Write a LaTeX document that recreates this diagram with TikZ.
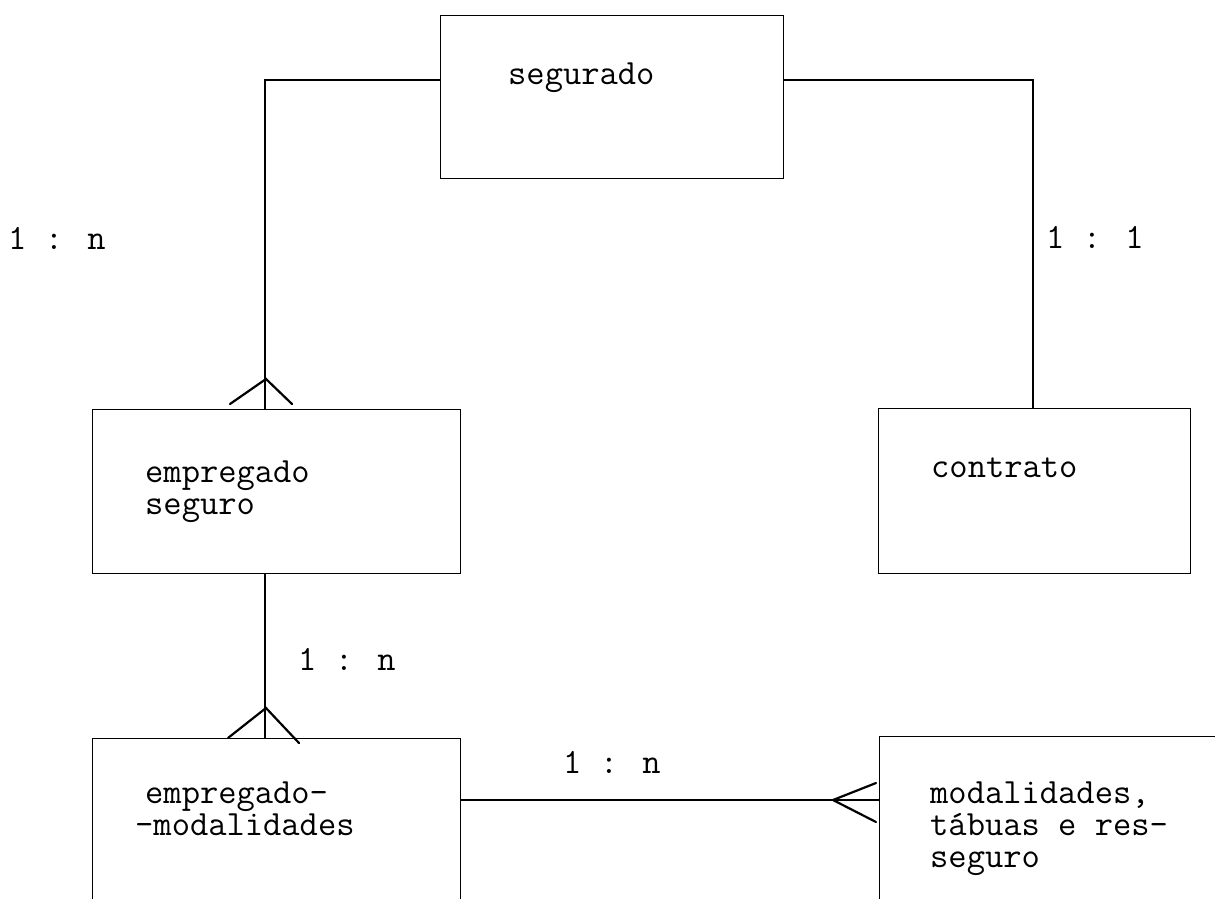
\documentclass[tikz,border=0pt]{standalone}
\usepackage{fontspec}
\begin{document}
\begin{tikzpicture}[x=1pt,y=-1pt,
  entity/.style={draw, line width=1.3pt, rectangle, inner sep=0, anchor=north west},
  link/.style={line width=1.3pt},
  crow/.style={line width=2.2pt, line cap=round},
  txt/.style={inner sep=0, anchor=base west, font={\ttfamily\fontsize{35.5}{32}\selectfont}}]
\useasboundingbox (0,0) rectangle (1215,898);
\clip (0,0) rectangle (1215,898);

% entity boxes
\node[entity, minimum width=343pt, minimum height=163pt] (seg) at (440,15) {};
\node[entity, minimum width=368pt, minimum height=164pt] (es)  at (92,409) {};
\node[entity, minimum width=312pt, minimum height=165pt] (ct)  at (878,408) {};
\node[entity, minimum width=368pt, minimum height=200pt] (em)  at (92,738) {};
\node[entity, minimum width=400pt, minimum height=200pt] (mt)  at (879,736) {};

% box texts
\node[txt] (tseg) at (508,84) {segurado};
\node[txt] (tes)  at (145,482) {\vtop{\hbox{empregado}\hbox{seguro}}};
\node[txt] (tct)  at (931,477) {contrato};
\node[txt] (tem)  at (145,803) {\vtop{\hbox{empregado-}\hbox{\hspace*{-10pt}-modalidades}}};
\node[txt] (tmt)  at (930,803) {\vtop{\hbox{modalidades,}\hbox{tábuas e res-}\hbox{seguro}}};

% routing points
\coordinate (cl) at (265,80);
\coordinate (cr) at (1033,80);
\coordinate (ch) at (0,800);

% connectors
\draw[link] (seg.west |- cl) -- (cl) -- (es.north -| cl);
\draw[link] (seg.east |- cr) -- (cr) -- (ct.north -| cr);
\draw[link] (es.south -| cl) -- (em.north -| cl);
\draw[link] (em.east |- ch) -- (mt.west |- ch);

% crow's feet (many side)
\coordinate (a1) at (266,379);
\coordinate (l1) at (230,404);
\coordinate (r1) at (292,404);
\draw[crow] (l1) -- (a1) -- (r1);
\coordinate (a2) at (266,708);
\coordinate (l2) at (228,738);
\coordinate (r2) at (299,743);
\draw[crow] (l2) -- (a2) -- (r2);
\coordinate (a3) at (833,800);
\coordinate (u3) at (876,783);
\coordinate (d3) at (876,822);
\draw[crow] (u3) -- (a3) -- (d3);

% cardinality labels
\node[txt] (k1) at (8,249) {1 : n};
\node[txt] (k2) at (1046,248) {1 : 1};
\node[txt] (k3) at (298,670) {1 : n};
\node[txt] (k4) at (563,773) {1 : n};
\end{tikzpicture}
\end{document}
